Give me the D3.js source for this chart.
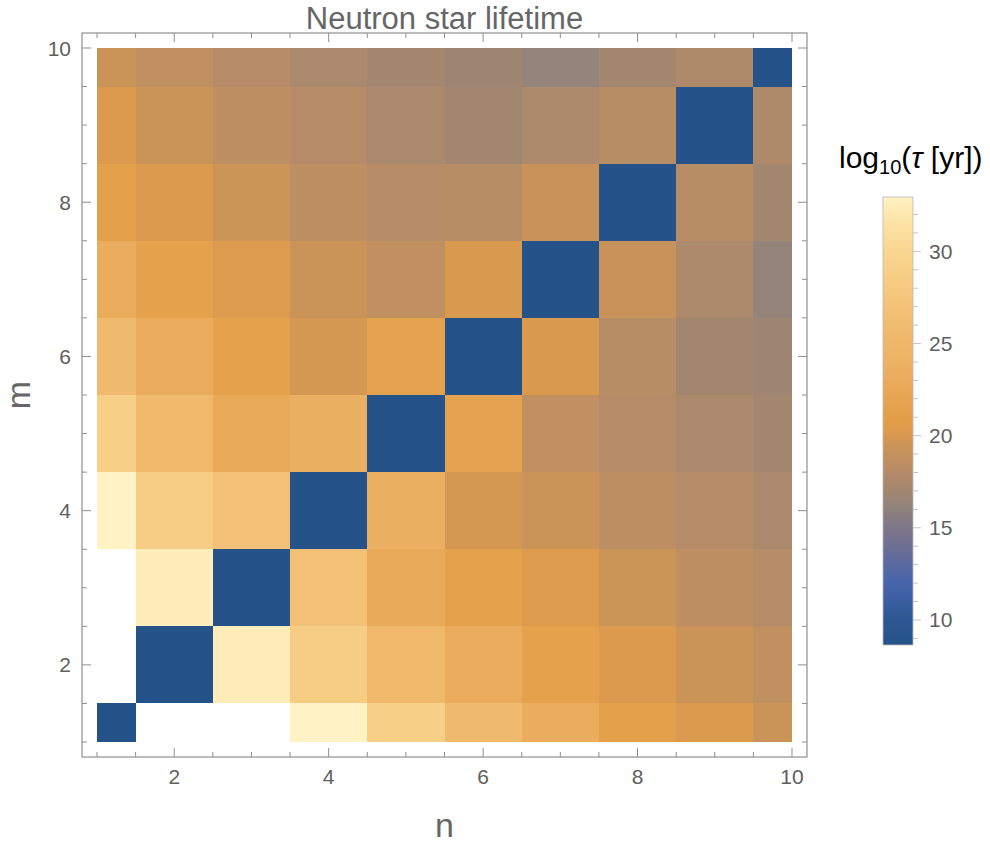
<!DOCTYPE html>
<html>
<head>
<meta charset="utf-8">
<script src="https://cdn.jsdelivr.net/npm/d3@7"></script>
<style>
  html, body { margin: 0; padding: 0; background: #fff; }
  svg { display: block; font-family: "Liberation Sans", Arial, sans-serif; }
</style>
</head>
<body>
<svg id="chart" width="990" height="845"></svg>
<script>
// Grid coordinates
const nValues = [1, 2, 3, 4, 5, 6, 7, 8, 9, 10];
const mValues = [1, 2, 3, 4, 5, 6, 7, 8, 9, 10];

// log10 of the lifetime in years, one array per row m (columns n = 1..10); null = no value
const logTauM1  = [8.64, null, null, 32.95, 28.8, 25.5, 23.1, 21.5, 20.2, 19.4];
const logTauM2  = [null, 8.64, 32.5, 28.6, 25.2, 23.0, 21.6, 20.2, 19.4, 18.7];
const logTauM3  = [null, 32.5, 8.64, 26.8, 22.8, 21.6, 20.3, 19.5, 18.6, 18.1];
const logTauM4  = [32.95, 28.6, 26.8, 8.64, 23.6, 19.9, 19.4, 18.6, 18.1, 17.5];
const logTauM5  = [28.8, 25.2, 22.8, 23.6, 8.64, 21.8, 18.8, 18.1, 17.5, 17.1];
const logTauM6  = [25.5, 23.0, 21.6, 19.9, 21.8, 8.64, 20.1, 18.2, 17.0, 16.8];
const logTauM7  = [23.1, 21.6, 20.3, 19.4, 18.8, 20.1, 8.64, 19.2, 17.6, 16.3];
const logTauM8  = [21.5, 20.2, 19.5, 18.6, 18.1, 18.2, 19.2, 8.64, 18.2, 17.1];
const logTauM9  = [20.2, 19.4, 18.6, 18.1, 17.5, 17.0, 17.6, 18.2, 8.64, 17.7];
const logTauM10 = [19.4, 18.7, 18.1, 17.5, 17.1, 16.8, 16.3, 17.1, 17.7, 8.64];

// Tick labels
const axisTickLabels = [2, 4, 6, 8, 10];
const colorbarTickLabels = [10, 15, 20, 25, 30];

const rows = [logTauM1, logTauM2, logTauM3, logTauM4, logTauM5,
              logTauM6, logTauM7, logTauM8, logTauM9, logTauM10];

const cells = [];
rows.forEach((row, i) => row.forEach((v, j) => {
  cells.push({ m: mValues[i], n: nValues[j], v });
}));

// Density gradient (blue -> grey -> orange -> pale yellow)
const gradientStops = [
  [8.64, "#26528a"], [10.0, "#2c5791"], [11.3, "#3e60a4"], [12.2, "#4a66aa"],
  [13.2, "#5e6b9e"], [14.2, "#707192"], [15.2, "#817888"], [16.3, "#958479"],
  [17.0, "#a28670"], [17.5, "#ab896c"], [18.1, "#b58c67"], [18.6, "#be8f62"],
  [19.4, "#ca9459"], [20.2, "#db9a4e"], [20.8, "#e29d48"], [21.6, "#e4a24d"],
  [23.0, "#eaab5c"], [23.6, "#ebaf62"], [25.3, "#efb96b"], [26.8, "#f2c076"],
  [28.7, "#f7ce85"], [30.0, "#f9d690"], [31.5, "#fce2a4"], [32.5, "#feecb8"],
  [32.97, "#fff2c4"]
];

const vals = cells.map(d => d.v).filter(v => v != null);
const [vMin, vMax] = d3.extent(vals);

const color = d3.scaleLinear()
  .domain(gradientStops.map(s => vMin + (s[0] - 8.64) / (32.97 - 8.64) * (vMax - vMin)))
  .range(gradientStops.map(s => s[1]))
  .interpolate(d3.interpolateRgb)
  .clamp(true);

const svg = d3.select("#chart");

// Plot geometry
const x = d3.scaleLinear().domain([1, 10]).range([97, 792]);
const y = d3.scaleLinear().domain([1, 10]).range([742, 48]);
const pad = 15;
const frame = { x0: x(1) - pad, x1: x(10) + pad, y0: y(10) - pad, y1: y(1) + pad };

const gridG = svg.append("g");
gridG.selectAll("rect")
  .data(cells.filter(d => d.v != null))
  .join("rect")
  .attr("x", d => x(Math.max(d.n - 0.5, 1)))
  .attr("y", d => y(Math.min(d.m + 0.5, 10)))
  .attr("width", d => x(Math.min(d.n + 0.5, 10)) - x(Math.max(d.n - 0.5, 1)))
  .attr("height", d => y(Math.max(d.m - 0.5, 1)) - y(Math.min(d.m + 0.5, 10)))
  .attr("fill", d => color(d.v))
  .attr("shape-rendering", "crispEdges");

// Frame
const frameColor = "#8f8f8f";
svg.append("rect")
  .attr("x", frame.x0).attr("y", frame.y0)
  .attr("width", frame.x1 - frame.x0).attr("height", frame.y1 - frame.y0)
  .attr("fill", "none").attr("stroke", frameColor).attr("stroke-width", 1.2);

// Ticks every 0.5, major ones at the labelled values
const tickVals = d3.range(1, 10.01, 0.5);
const isMajor = v => axisTickLabels.includes(v);
const tickG = svg.append("g").attr("stroke", frameColor).attr("stroke-width", 1);
tickVals.forEach(v => {
  const len = isMajor(v) ? 9 : 5;
  const px = x(v), py = y(v);
  tickG.append("line").attr("x1", px).attr("x2", px).attr("y1", frame.y1).attr("y2", frame.y1 - len);
  tickG.append("line").attr("x1", px).attr("x2", px).attr("y1", frame.y0).attr("y2", frame.y0 + len);
  tickG.append("line").attr("y1", py).attr("y2", py).attr("x1", frame.x0).attr("x2", frame.x0 + len);
  tickG.append("line").attr("y1", py).attr("y2", py).attr("x1", frame.x1).attr("x2", frame.x1 - len);
});

const labelColor = "#606060";
svg.append("g").selectAll("text").data(axisTickLabels).join("text")
  .attr("x", d => x(d)).attr("y", frame.y1 + 27)
  .attr("text-anchor", "middle").attr("font-size", 21).attr("fill", labelColor)
  .text(d => d);
svg.append("g").selectAll("text").data(axisTickLabels).join("text")
  .attr("x", frame.x0 - 11).attr("y", d => y(d)).attr("dy", "0.36em")
  .attr("text-anchor", "end").attr("font-size", 21).attr("fill", labelColor)
  .text(d => d);

// Title and axis labels
svg.append("text").attr("x", (frame.x0 + frame.x1) / 2).attr("y", 29)
  .attr("text-anchor", "middle").attr("font-size", 31).attr("fill", "#666")
  .text("Neutron star lifetime");
svg.append("text").attr("x", (frame.x0 + frame.x1) / 2).attr("y", 837)
  .attr("text-anchor", "middle").attr("font-size", 34).attr("fill", "#666")
  .text("n");
svg.append("text").attr("transform", `translate(30, ${(frame.y0 + frame.y1) / 2}) rotate(-90)`)
  .attr("text-anchor", "middle").attr("font-size", 34).attr("fill", "#666")
  .text("m");

// Colour bar
const cb = { x: 883, w: 30, top: 197, bottom: 645 };
const cbScale = d3.scaleLinear().domain([vMin, vMax]).range([cb.bottom, cb.top]);
const defs = svg.append("defs");
const lg = defs.append("linearGradient").attr("id", "cbGrad")
  .attr("x1", 0).attr("y1", 1).attr("x2", 0).attr("y2", 0);
lg.selectAll("stop").data(color.domain()).join("stop")
  .attr("offset", d => (d - vMin) / (vMax - vMin))
  .attr("stop-color", d => color(d));
svg.append("rect").attr("x", cb.x).attr("y", cb.top)
  .attr("width", cb.w).attr("height", cb.bottom - cb.top)
  .attr("fill", "url(#cbGrad)").attr("stroke", "#b8b8b8").attr("stroke-width", 0.8);

const cbTicks = d3.range(Math.ceil(vMin), Math.floor(vMax) + 1);
svg.append("g").attr("stroke", "#c4c4c4").selectAll("line").data(cbTicks).join("line")
  .attr("x1", cb.x + cb.w).attr("x2", d => cb.x + cb.w + (colorbarTickLabels.includes(d) ? 8 : 5))
  .attr("y1", d => cbScale(d)).attr("y2", d => cbScale(d));
svg.append("g").selectAll("text").data(colorbarTickLabels).join("text")
  .attr("x", cb.x + cb.w + 16).attr("y", d => cbScale(d)).attr("dy", "0.36em")
  .attr("font-size", 21).attr("fill", labelColor)
  .text(d => d);

const cbLabel = svg.append("text").attr("x", 839).attr("y", 168)
  .attr("font-size", 30).attr("fill", "#000");
cbLabel.append("tspan").text("log");
cbLabel.append("tspan").attr("font-size", 20).attr("dy", 6).text("10");
cbLabel.append("tspan").attr("dy", -6).text("(");
cbLabel.append("tspan").attr("font-style", "italic").text("τ");
cbLabel.append("tspan").text(" [yr])");
</script>
</body>
</html>
